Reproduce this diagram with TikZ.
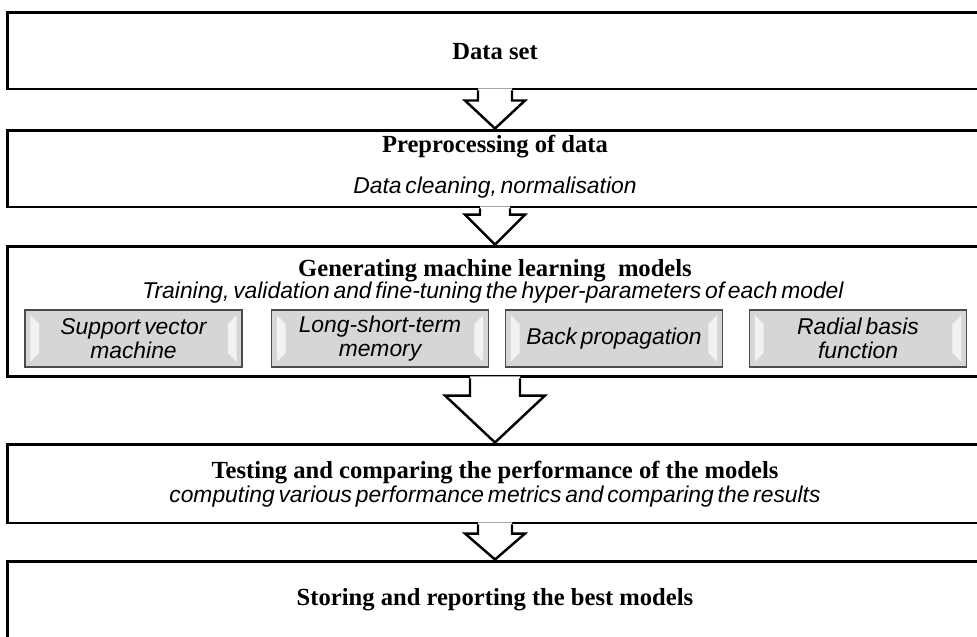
\documentclass[tikz,border=0pt]{standalone}
\usepackage{fontspec}
\setmainfont{Liberation Serif}
\newfontfamily\labelfont[WordSpace=0.6]{Liberation Sans}
\usetikzlibrary{calc}

\definecolor{modelgray}{HTML}{D6D6D6}
\definecolor{bevelgray}{HTML}{F2F2F2}

% hollow block arrow from the bottom of #1 to the top of #2
% #3 half shaft width, #4 half head width, #5 head length
\newcommand{\blockarrow}[5]{%
  \fill[white] ($(#1.south)+(-#3,-2)$) -- ($(#2.north)+(-#3,-#5)$)
    -- ($(#2.north)+(-#4,-#5)$) -- (#2.north) -- ($(#2.north)+(#4,-#5)$)
    -- ($(#2.north)+(#3,-#5)$) -- ($(#1.south)+(#3,-2)$) -- cycle;
  \draw[arrowline] ($(#1.south)+(-#3,0)$) -- ($(#2.north)+(-#3,-#5)$)
    -- ($(#2.north)+(-#4,-#5)$) -- (#2.north) -- ($(#2.north)+(#4,-#5)$)
    -- ($(#2.north)+(#3,-#5)$) -- ($(#1.south)+(#3,0)$);
}

\begin{document}
\begin{tikzpicture}[
    x=0.02cm, y=-0.02cm,
    stage/.style={draw, line width=1.7pt, minimum width=19.52cm, inner sep=0pt},
    title/.style={font=\bfseries\fontsize{14}{16}\selectfont, inner sep=0pt},
    detail/.style={font=\labelfont\itshape\fontsize{13}{14}\selectfont, inner sep=0pt},
    arrowline/.style={line width=1.4pt, line join=miter},
    model/.style={draw=black!70, line width=0.6pt, fill=modelgray,
      minimum width=4.34cm, minimum height=1.14cm, inner sep=0pt, align=center,
      font=\labelfont\itshape\fontsize{13}{14}\selectfont,
      path picture={
        \fill[bevelgray]
          ([shift={(3pt,-3pt)}]path picture bounding box.north west)
          -- ([shift={(8pt,-8pt)}]path picture bounding box.north west)
          -- ([shift={(8pt,8pt)}]path picture bounding box.south west)
          -- ([shift={(3pt,3pt)}]path picture bounding box.south west) -- cycle;
        \fill[bevelgray]
          ([shift={(-3pt,-3pt)}]path picture bounding box.north east)
          -- ([shift={(-8pt,-8pt)}]path picture bounding box.north east)
          -- ([shift={(-8pt,8pt)}]path picture bounding box.south east)
          -- ([shift={(-3pt,3pt)}]path picture bounding box.south east) -- cycle;
      }}
  ]
  \useasboundingbox (0,0) rectangle (977,636);
  \clip (0,0) rectangle (977,636);

  % stages
  \node[stage, minimum height=1.54cm] (b1) at (495,50.5)  {};
  \node[stage, minimum height=1.54cm] (b2) at (495,168.5) {};
  \node[stage, minimum height=2.62cm] (b3) at (495,311.5) {};
  \node[stage, minimum height=1.58cm] (b4) at (495,483.5) {};
  \node[stage, minimum height=1.64cm] (b5) at (495,602)   {};

  \node[title]  (t1) at (495,52)  {Data set};
  \node[title]  (t2) at (495,147) {Preprocessing of data};
  \node[detail] (d2) at (495,188) {Data cleaning, normalisation};
  \node[title]  (t3) at (495,271) {Generating machine learning\ \ models};
  \node[detail] (d3) at (493,293) {Training, validation and fine-tuning the hyper-parameters of each model};
  \node[title]  (t4) at (495,473) {Testing and comparing the performance of the models};
  \node[detail] (d4) at (495,497) {computing various performance metrics and comparing the results};
  \node[title]  (t5) at (495,600) {Storing and reporting the best models};

  % models
  \node[model] (m1) at (133.5,338.5) {Support vector\\machine};
  \node[model] (m2) at (380,338.5)   {Long-short-term\\memory};
  \node[model] (m3) at (614,338.5)   {Back propagation};
  \node[model] (m4) at (858,338.5)   {Radial basis\\function};

  % flow
  \blockarrow{b1}{b2}{17}{30}{28}
  \blockarrow{b2}{b3}{15}{30}{30}
  \blockarrow{b3}{b4}{25}{50}{47}
  \blockarrow{b4}{b5}{17}{30}{26}
\end{tikzpicture}
\end{document}
